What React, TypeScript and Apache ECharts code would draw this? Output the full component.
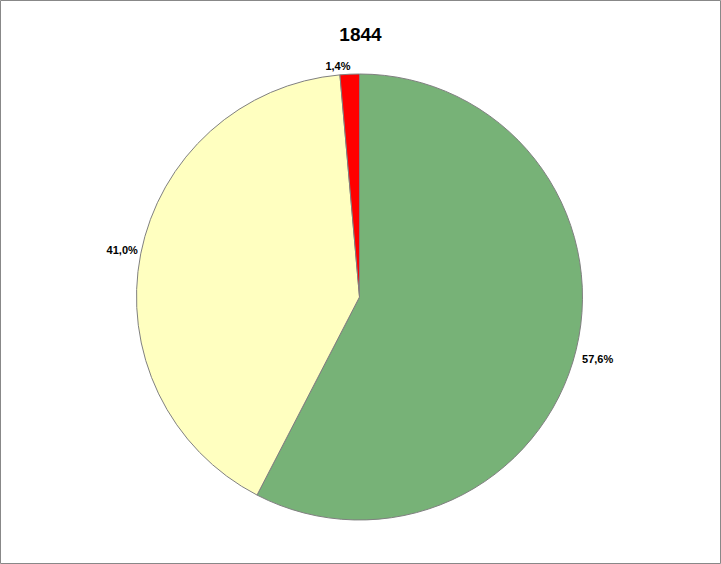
import React, { useEffect, useRef } from "react";
import * as echarts from "echarts";

const title = "1844";
const categories = ["A", "B", "C"];
const values = [57.6, 41.0, 1.4];
const colors = ["#77B277", "#FFFFC0", "#FF0000"];

// label nudges to mimic the original placement (style only)
const labelOffsets: [number, number][] = [[-5, 8], [8, -3], [8, -4]];

export default function App() {
  const ref = useRef<HTMLDivElement>(null);
  useEffect(() => {
    const chart = echarts.init(ref.current!, null, { renderer: "svg" });
    chart.setOption({
      animation: false,
      backgroundColor: "#ffffff",
      title: {
        text: title,
        left: "center",
        top: 20,
        textStyle: { fontFamily: "Liberation Sans, Arial", fontWeight: "bold", fontSize: 19, color: "#000" },
      },
      graphic: [
        {
          type: "rect",
          shape: { x: 0.5, y: 0.5, width: 720, height: 563 },
          style: { fill: "none", stroke: "#888888", lineWidth: 1 },
          silent: true,
        },
      ],
      series: [
        {
          type: "pie",
          center: [359.5, 297],
          radius: 223,
          startAngle: 90,
          clockwise: true,
          avoidLabelOverlap: false,
          data: categories.map((c, i) => ({
            name: c,
            value: values[i],
            itemStyle: { color: colors[i] },
            label: { offset: labelOffsets[i] },
          })),
          itemStyle: { borderColor: "#808080", borderWidth: 1 },
          label: {
            show: true,
            position: "outside",
            formatter: (p: any) => p.value.toFixed(1).replace(".", ",") + "%",
            fontFamily: "Liberation Sans, Arial",
            fontWeight: "bold",
            fontSize: 11,
            color: "#000",
          },
          labelLine: { show: false, length: 4, length2: 2 },
        },
      ],
    });
    return () => chart.dispose();
  }, []);
  return (
    <div
      ref={ref}
      style={{ position: "fixed", left: 0, top: 0, width: 721, height: 564 }}
    />
  );
}
